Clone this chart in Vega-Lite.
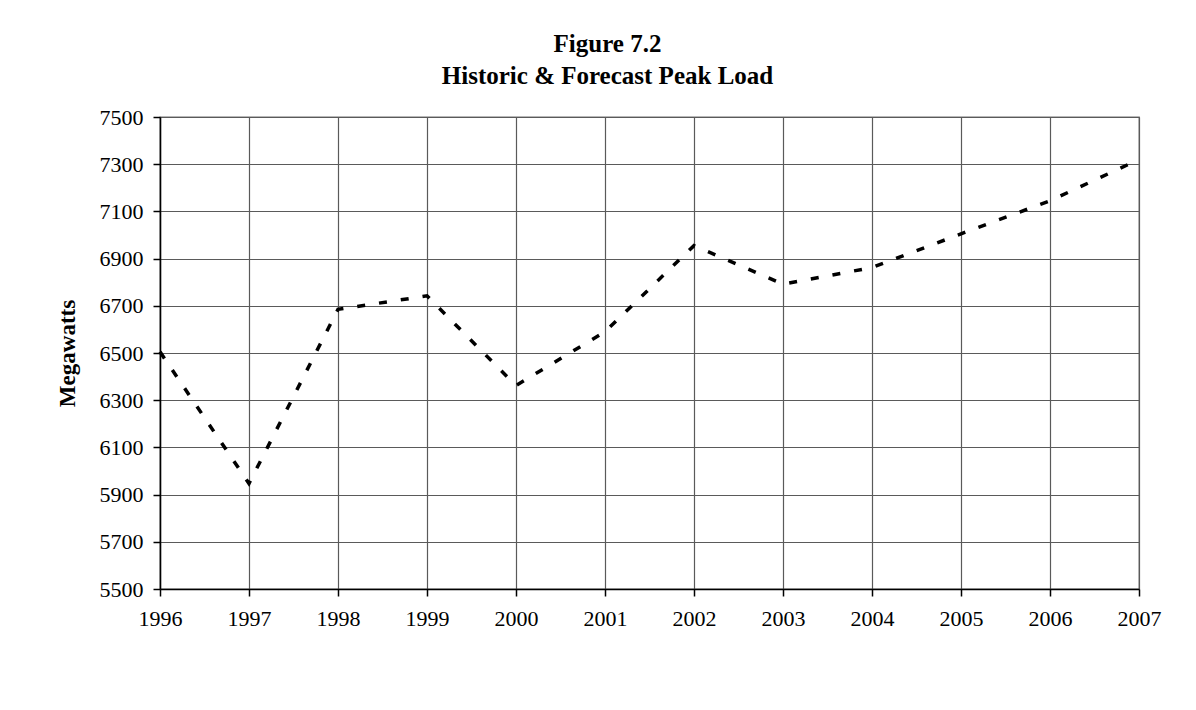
{
  "$schema": "https://vega.github.io/schema/vega-lite/v6.json",
  "autosize": {"type": "none"},
  "padding": {"left": 160, "top": 117, "right": 57, "bottom": 121},
  "width": 979,
  "height": 472,
  "background": "white",
  "title": {
    "text": ["Figure 7.2", "Historic & Forecast Peak Load"],
    "font": "Liberation Serif",
    "fontSize": 25,
    "fontWeight": "bold",
    "color": "black",
    "lineHeight": 31.7,
    "anchor": "middle",
    "frame": "group",
    "dx": -42,
    "offset": 17
  },
  "config": {
    "view": {"stroke": "#707070", "strokeWidth": 1.3},
    "axis": {
      "labelFont": "Liberation Serif",
      "labelFontSize": 22,
      "labelColor": "black",
      "titleFont": "Liberation Serif",
      "titleColor": "black",
      "gridColor": "#5a5a5a",
      "gridWidth": 1.2,
      "gridOpacity": 1,
      "domainColor": "black",
      "domainWidth": 1.5,
      "tickColor": "black",
      "tickWidth": 1.5,
      "tickSize": 7
    }
  },
  "data": {
    "values": [
      {"year": 1996, "mw": 6505},
      {"year": 1997, "mw": 5947},
      {"year": 1998, "mw": 6685},
      {"year": 1999, "mw": 6742},
      {"year": 2000, "mw": 6362},
      {"year": 2001, "mw": 6590},
      {"year": 2002, "mw": 6955},
      {"year": 2003, "mw": 6792},
      {"year": 2004, "mw": 6862},
      {"year": 2005, "mw": 7005},
      {"year": 2006, "mw": 7145},
      {"year": 2007, "mw": 7320}
    ]
  },
  "mark": {"type": "line", "color": "black", "strokeWidth": 3.5, "strokeDash": [8, 14], "clip": false},
  "encoding": {
    "x": {
      "field": "year",
      "type": "quantitative",
      "scale": {"domain": [1996, 2007], "nice": false, "zero": false},
      "axis": {
        "values": [1996, 1997, 1998, 1999, 2000, 2001, 2002, 2003, 2004, 2005, 2006, 2007],
        "format": "d",
        "title": null,
        "labelFlush": false,
        "labelOverlap": false,
        "labelPadding": 12
      }
    },
    "y": {
      "field": "mw",
      "type": "quantitative",
      "scale": {"domain": [5500, 7500], "nice": false, "zero": false},
      "axis": {
        "values": [5500, 5700, 5900, 6100, 6300, 6500, 6700, 6900, 7100, 7300, 7500],
        "format": "d",
        "title": "Megawatts",
        "titleFontSize": 23,
        "titleFontWeight": "bold",
        "titlePadding": 20,
        "labelPadding": 10,
        "labelFlush": false,
        "labelOverlap": false
      }
    }
  }
}
